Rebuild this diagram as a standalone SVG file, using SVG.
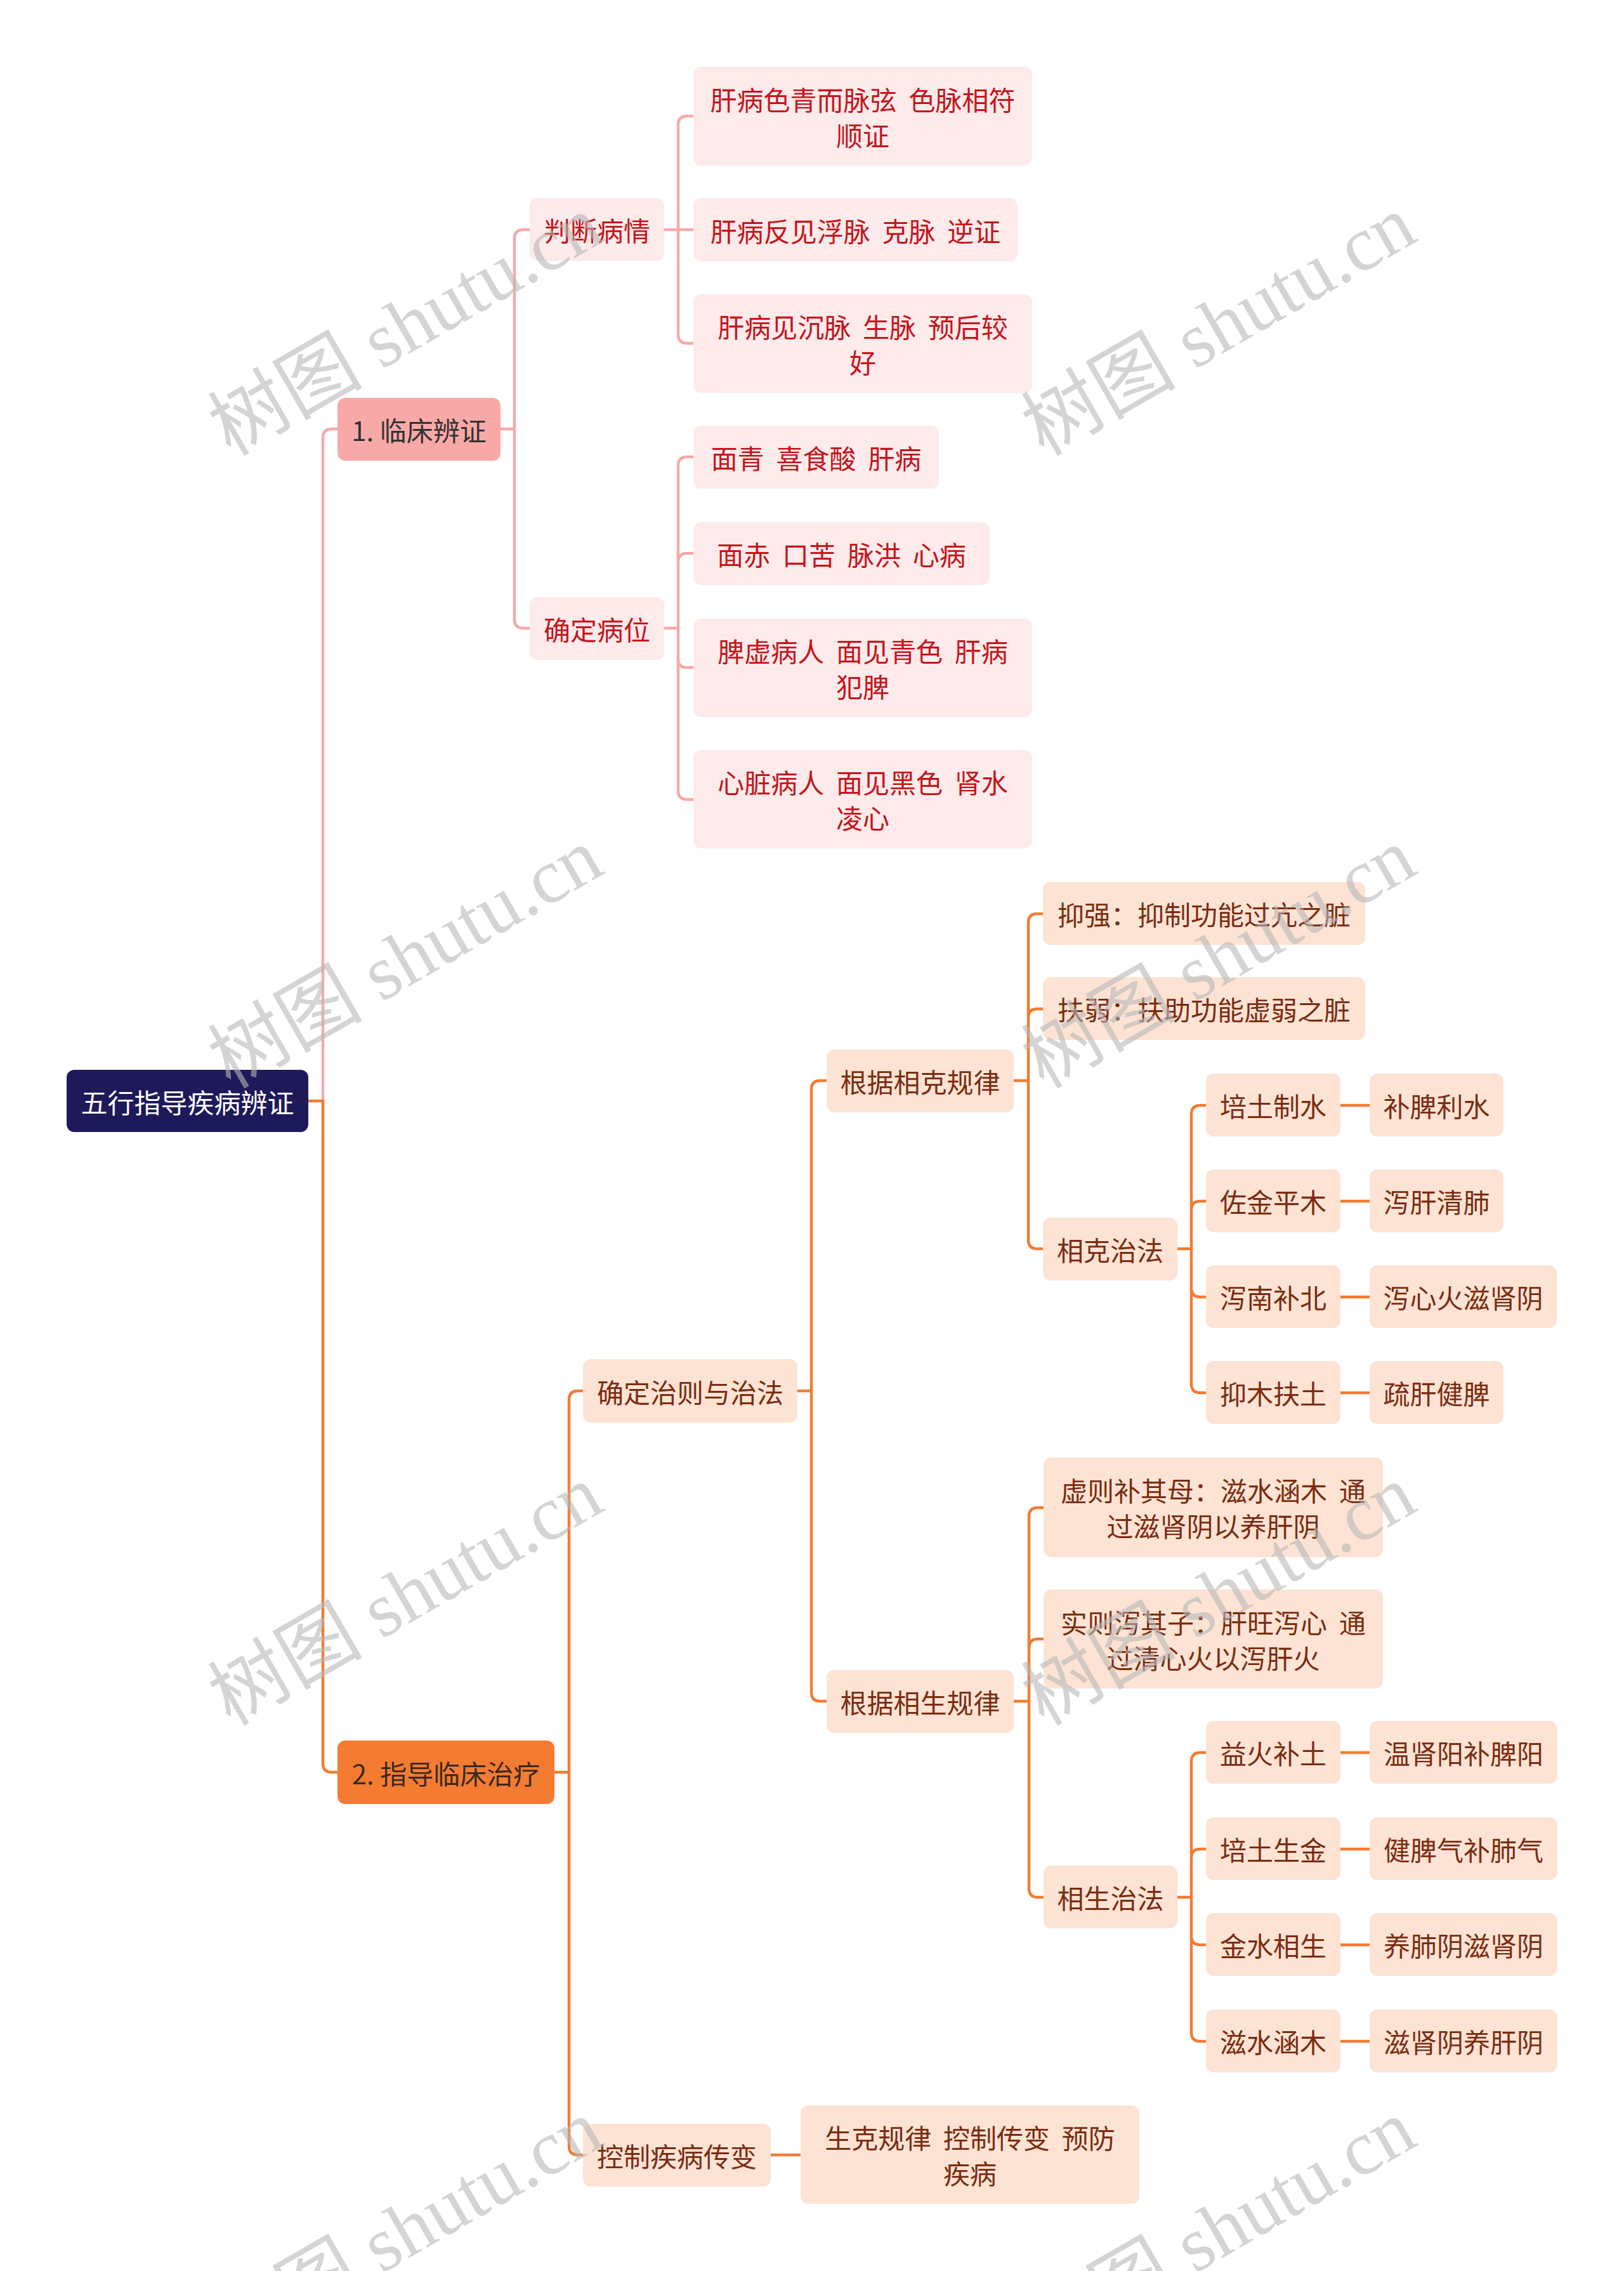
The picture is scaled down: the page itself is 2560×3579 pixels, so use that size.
<svg xmlns="http://www.w3.org/2000/svg" width="2560" height="3579" viewBox="0 0 2560 3579">
<style>
.t{font-family:"Noto Sans CJK SC","Noto Sans",sans-serif;font-size:42px;text-anchor:middle;dominant-baseline:central;white-space:pre}
.c1{fill:none;stroke:#f5aaa8;stroke-width:4.5}
.c2{fill:none;stroke:#f27b35;stroke-width:4.5}
.p rect{fill:#fdeaea}
.p text{fill:#c4151c}
.o rect{fill:#fde3d4}
.o text{fill:#7a2c10}
.wm{font-family:"Liberation Serif","Noto Sans CJK SC",serif;font-size:122px;fill:#b8b8b8;opacity:0.6;text-anchor:middle;dominant-baseline:central}
</style>
<rect width="2560" height="3579" fill="#ffffff"/>
<g id="connectors">
<path class="c1" d="M509 1735 V690 Q509 676 523 676 H532"/>
<path class="c2" d="M486 1735 H509 V2779 Q509 2793 523 2793 H532"/>
<path class="c1" d="M789 676 H811 M811 676 V376 Q811 362 825 362 H835 M811 676 V976 Q811 990 825 990 H835"/>
<path class="c1" d="M1047 362 H1093 M1069 362 V197 Q1069 183 1083 183 H1093 M1069 362 V527 Q1069 541 1083 541 H1093"/>
<path class="c1" d="M1047 990 H1069 M1069 990 V734 Q1069 720 1083 720 H1093 M1069 990 V886 Q1069 872 1083 872 H1093 M1069 990 V1038 Q1069 1052 1083 1052 H1093 M1069 990 V1246 Q1069 1260 1083 1260 H1093"/>
<path class="c2" d="M874 2793 H897 M897 2793 V2206 Q897 2192 911 2192 H919 M897 2793 V3382 Q897 3396 911 3396 H919"/>
<path class="c2" d="M1257 2192 H1279 M1279 2192 V1717 Q1279 1703 1293 1703 H1303 M1279 2192 V2667 Q1279 2681 1293 2681 H1303"/>
<path class="c2" d="M1598 1703 H1621 M1621 1703 V1454 Q1621 1440 1635 1440 H1644 M1621 1703 V1604 Q1621 1590 1635 1590 H1644 M1621 1703 V1954 Q1621 1968 1635 1968 H1644"/>
<path class="c2" d="M1856 1968 H1878 M1878 1968 V1756 Q1878 1742 1892 1742 H1901 M1878 1968 V1907 Q1878 1893 1892 1893 H1901 M1878 1968 V2030 Q1878 2044 1892 2044 H1901 M1878 1968 V2181 Q1878 2195 1892 2195 H1901"/>
<path class="c2" d="M2113 1742 H2159 M2113 1893 H2159 M2113 2044 H2159 M2113 2195 H2159"/>
<path class="c2" d="M1598 2681 H1622 M1622 2681 V2390 Q1622 2376 1636 2376 H1645 M1622 2681 V2597 Q1622 2583 1636 2583 H1645 M1622 2681 V2976 Q1622 2990 1636 2990 H1645"/>
<path class="c2" d="M1856 2990 H1878 M1878 2990 V2776 Q1878 2762 1892 2762 H1901 M1878 2990 V2928 Q1878 2914 1892 2914 H1901 M1878 2990 V3051 Q1878 3065 1892 3065 H1901 M1878 2990 V3203 Q1878 3217 1892 3217 H1901"/>
<path class="c2" d="M2113 2762 H2159 M2113 2914 H2159 M2113 3065 H2159 M2113 3217 H2159"/>
<path class="c2" d="M1215 3396 H1262"/>
</g>
<g id="root"><rect x="105" y="1686" width="381" height="98" rx="12" fill="#1e1a5a"/><text class="t" x="295.5" y="1735" fill="#ffffff">五行指导疾病辨证</text></g>
<g id="b1"><rect x="532" y="627" width="257" height="99" rx="12" fill="#f8a9a7"/><text class="t" x="660.5" y="676.5" fill="#333333">1. 临床辨证</text></g>
<g id="b2"><rect x="532" y="2743" width="342" height="100" rx="12" fill="#f47b32"/><text class="t" x="703" y="2793" fill="#3a2a20">2. 指导临床治疗</text></g>
<g id="n_pdbq" class="p"><rect x="835" y="312" width="212" height="99" rx="12"/><text class="t" x="941" y="361.5">判断病情</text></g>
<g id="n_qdbw" class="p"><rect x="835" y="941" width="212" height="99" rx="12"/><text class="t" x="941" y="990.5">确定病位</text></g>
<g id="n_a1" class="p"><rect x="1093" y="105" width="534" height="156" rx="12"/><text class="t" x="1360" y="155">肝病色青而脉弦  色脉相符</text><text class="t" x="1360" y="211">顺证</text></g>
<g id="n_a2" class="p"><rect x="1093" y="312" width="511" height="100" rx="12"/><text class="t" x="1348.5" y="362">肝病反见浮脉  克脉  逆证</text></g>
<g id="n_a3" class="p"><rect x="1093" y="464" width="534" height="155" rx="12"/><text class="t" x="1360" y="513.5">肝病见沉脉  生脉  预后较</text><text class="t" x="1360" y="569.5">好</text></g>
<g id="n_b1" class="p"><rect x="1093" y="671" width="387" height="99" rx="12"/><text class="t" x="1286.5" y="720.5">面青  喜食酸  肝病</text></g>
<g id="n_b2" class="p"><rect x="1093" y="823" width="467" height="99" rx="12"/><text class="t" x="1326.5" y="872.5">面赤  口苦  脉洪  心病</text></g>
<g id="n_b3" class="p"><rect x="1093" y="975" width="534" height="155" rx="12"/><text class="t" x="1360" y="1024.5">脾虚病人  面见青色  肝病</text><text class="t" x="1360" y="1080.5">犯脾</text></g>
<g id="n_b4" class="p"><rect x="1093" y="1182" width="534" height="155" rx="12"/><text class="t" x="1360" y="1231.5">心脏病人  面见黑色  肾水</text><text class="t" x="1360" y="1287.5">凌心</text></g>
<g id="n_qdzz" class="o"><rect x="919" y="2142" width="338" height="100" rx="12"/><text class="t" x="1088" y="2192">确定治则与治法</text></g>
<g id="n_kzjb" class="o"><rect x="919" y="3347" width="296" height="99" rx="12"/><text class="t" x="1067" y="3396.5">控制疾病传变</text></g>
<g id="n_xk" class="o"><rect x="1303" y="1654" width="295" height="99" rx="12"/><text class="t" x="1450.5" y="1703.5">根据相克规律</text></g>
<g id="n_xs" class="o"><rect x="1303" y="2632" width="295" height="99" rx="12"/><text class="t" x="1450.5" y="2681.5">根据相生规律</text></g>
<g id="n_yq" class="o"><rect x="1644" y="1390" width="508" height="99" rx="12"/><text class="t" x="1898" y="1439.5">抑强：抑制功能过亢之脏</text></g>
<g id="n_fr" class="o"><rect x="1644" y="1540" width="508" height="99" rx="12"/><text class="t" x="1898" y="1589.5">扶弱：扶助功能虚弱之脏</text></g>
<g id="n_xkzf" class="o"><rect x="1644" y="1919" width="212" height="99" rx="12"/><text class="t" x="1750" y="1968.5">相克治法</text></g>
<g id="n_k1" class="o"><rect x="1901" y="1692" width="212" height="99" rx="12"/><text class="t" x="2007" y="1741.5">培土制水</text></g>
<g id="n_k1r" class="o"><rect x="2159" y="1692" width="211" height="99" rx="12"/><text class="t" x="2264.5" y="1741.5">补脾利水</text></g>
<g id="n_k2" class="o"><rect x="1901" y="1843" width="212" height="99" rx="12"/><text class="t" x="2007" y="1892.5">佐金平木</text></g>
<g id="n_k2r" class="o"><rect x="2159" y="1843" width="211" height="99" rx="12"/><text class="t" x="2264.5" y="1892.5">泻肝清肺</text></g>
<g id="n_k3" class="o"><rect x="1901" y="1994" width="212" height="99" rx="12"/><text class="t" x="2007" y="2043.5">泻南补北</text></g>
<g id="n_k3r" class="o"><rect x="2159" y="1994" width="295" height="99" rx="12"/><text class="t" x="2306.5" y="2043.5">泻心火滋肾阴</text></g>
<g id="n_k4" class="o"><rect x="1901" y="2145" width="212" height="99" rx="12"/><text class="t" x="2007" y="2194.5">抑木扶土</text></g>
<g id="n_k4r" class="o"><rect x="2159" y="2145" width="211" height="99" rx="12"/><text class="t" x="2264.5" y="2194.5">疏肝健脾</text></g>
<g id="n_xz" class="o"><rect x="1645" y="2297" width="535" height="157" rx="12"/><text class="t" x="1912.5" y="2347.5">虚则补其母：滋水涵木  通</text><text class="t" x="1912.5" y="2403.5">过滋肾阴以养肝阴</text></g>
<g id="n_sz" class="o"><rect x="1645" y="2505" width="535" height="156" rx="12"/><text class="t" x="1912.5" y="2555">实则泻其子：肝旺泻心  通</text><text class="t" x="1912.5" y="2611">过清心火以泻肝火</text></g>
<g id="n_xszf" class="o"><rect x="1645" y="2940" width="211" height="99" rx="12"/><text class="t" x="1750.5" y="2989.5">相生治法</text></g>
<g id="n_s1" class="o"><rect x="1901" y="2712" width="212" height="99" rx="12"/><text class="t" x="2007" y="2761.5">益火补土</text></g>
<g id="n_s1r" class="o"><rect x="2159" y="2712" width="296" height="99" rx="12"/><text class="t" x="2307" y="2761.5">温肾阳补脾阳</text></g>
<g id="n_s2" class="o"><rect x="1901" y="2864" width="212" height="99" rx="12"/><text class="t" x="2007" y="2913.5">培土生金</text></g>
<g id="n_s2r" class="o"><rect x="2159" y="2864" width="296" height="99" rx="12"/><text class="t" x="2307" y="2913.5">健脾气补肺气</text></g>
<g id="n_s3" class="o"><rect x="1901" y="3015" width="212" height="99" rx="12"/><text class="t" x="2007" y="3064.5">金水相生</text></g>
<g id="n_s3r" class="o"><rect x="2159" y="3015" width="296" height="99" rx="12"/><text class="t" x="2307" y="3064.5">养肺阴滋肾阴</text></g>
<g id="n_s4" class="o"><rect x="1901" y="3167" width="212" height="99" rx="12"/><text class="t" x="2007" y="3216.5">滋水涵木</text></g>
<g id="n_s4r" class="o"><rect x="2159" y="3167" width="296" height="99" rx="12"/><text class="t" x="2307" y="3216.5">滋肾阴养肝阴</text></g>
<g id="n_skgl" class="o"><rect x="1262" y="3318" width="534" height="155" rx="12"/><text class="t" x="1529" y="3367.5">生克规律  控制传变  预防</text><text class="t" x="1529" y="3423.5">疾病</text></g>
<g id="watermarks">
<text class="wm" transform="rotate(-30 639 513)" x="639" y="513">树图 shutu.cn</text>
<text class="wm" transform="rotate(-30 1921 513)" x="1921" y="513">树图 shutu.cn</text>
<text class="wm" transform="rotate(-30 639 1510)" x="639" y="1510">树图 shutu.cn</text>
<text class="wm" transform="rotate(-30 1921 1510)" x="1921" y="1510">树图 shutu.cn</text>
<text class="wm" transform="rotate(-30 639 2514)" x="639" y="2514">树图 shutu.cn</text>
<text class="wm" transform="rotate(-30 1921 2514)" x="1921" y="2514">树图 shutu.cn</text>
<text class="wm" transform="rotate(-30 639 3514)" x="639" y="3514">树图 shutu.cn</text>
<text class="wm" transform="rotate(-30 1921 3514)" x="1921" y="3514">树图 shutu.cn</text>
</g>
</svg>
